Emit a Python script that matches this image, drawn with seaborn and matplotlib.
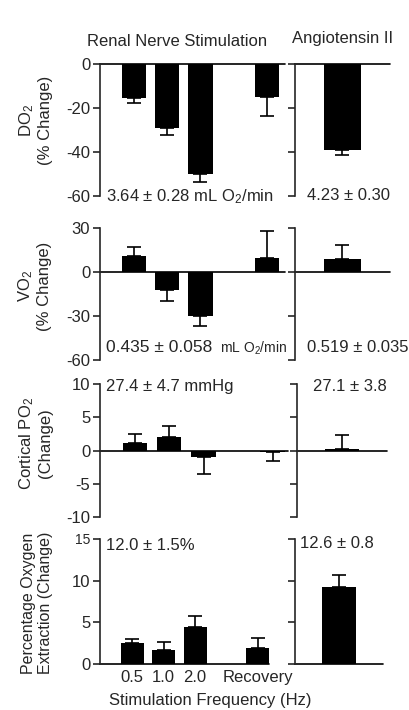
import matplotlib
matplotlib.use('Agg')
import matplotlib.pyplot as plt
import seaborn as sns

# ********************** data **********************
freq_labels = ['0.5', '1.0', '2.0', 'Recovery']
freq_order = ['0.5', '1.0', '2.0', ' ', 'Recovery']  # blank slot before recovery
ang_label = ['Ang II']

do2_rns = [-15.5, -29.2, -49.9, -15.0]
do2_rns_err = [2.3, 3.3, 3.8, 8.7]
do2_ang = [-39.0]
do2_ang_err = [2.6]

vo2_rns = [11.0, -12.0, -30.3, 9.5]
vo2_rns_err = [6.0, 7.6, 6.7, 18.2]
vo2_ang = [8.9]
vo2_ang_err = [9.7]

po2_rns = [1.1, 2.1, -1.0, -0.26]
po2_rns_err = [1.37, 1.52, 2.5, 1.3]
po2_ang = [0.26]
po2_ang_err = [2.0]

oe_rns = [2.5, 1.7, 4.5, 1.9]
oe_rns_err = [0.5, 0.9, 1.3, 1.25]
oe_ang = [9.2]
oe_ang_err = [1.5]

do2_ticks = [0, -20, -40, -60]
vo2_ticks = [30, 0, -30, -60]
po2_ticks = [10, 5, 0, -5, -10]
oe_ticks = [0, 5, 10, 15]

# ********************** style **********************
sns.set_style('ticks')
plt.rcParams['font.family'] = ['Liberation Sans', 'DejaVu Sans']
plt.rcParams['mathtext.fontset'] = 'custom'
plt.rcParams['mathtext.rm'] = 'Liberation Sans'
plt.rcParams['mathtext.it'] = 'Liberation Sans:italic'
plt.rcParams['axes.unicode_minus'] = False

W, H = 410, 710
LW = 1.2
fig = plt.figure(figsize=(W / 100, H / 100), dpi=100)


def px_rect(l, t, r, b):
    return [l / W, 1 - b / H, (r - l) / W, (b - t) / H]


def bar_panel(rect, cats, order, vals, errs, width, xlim, ylim, yticks, labels=True):
    ax = fig.add_axes(px_rect(*rect))
    sns.barplot(x=cats, y=vals, order=order, color='black', saturation=1,
                width=width, errorbar=None, linewidth=0, ax=ax)
    pos = [order.index(c) for c in cats]
    # one-sided SEM bars, pointing away from zero
    lo = [e if v < 0 else 0 for v, e in zip(vals, errs)]
    hi = [e if v >= 0 else 0 for v, e in zip(vals, errs)]
    ax.errorbar(pos, vals, yerr=[lo, hi], fmt='none', ecolor='black',
                elinewidth=LW, capsize=5, capthick=LW, zorder=3)
    ax.axhline(0, color='black', lw=LW, clip_on=False, zorder=2)
    ax.set_xlim(xlim)
    ax.set_ylim(ylim)
    ax.set_yticks(yticks)
    if not labels:
        ax.set_yticklabels([])
    for s in ['top', 'right', 'bottom']:
        ax.spines[s].set_visible(False)
    ax.spines['left'].set_linewidth(LW)
    ax.tick_params(axis='y', direction='out', length=5, width=LW, labelsize=12, pad=2)
    ax.tick_params(axis='x', length=0, labelsize=12, pad=4)
    ax.set_xticklabels([])
    ax.set_xlabel('')
    ax.set_ylabel('')
    ax.patch.set_alpha(0)
    return ax


# DO2
bar_panel((100, 63.5, 285, 196), freq_labels, freq_order, do2_rns, do2_rns_err,
          0.73, (-1.03, 4.55), (-60, 0), do2_ticks)
bar_panel((295, 63.5, 390, 196), ang_label, ang_label, do2_ang, do2_ang_err,
          0.39, (-0.5, 0.5), (-60, 0), do2_ticks, labels=False)

# VO2
bar_panel((100, 228, 285, 360), freq_labels, freq_order, vo2_rns, vo2_rns_err,
          0.73, (-1.03, 4.55), (-60, 30), vo2_ticks)
bar_panel((295, 228, 390, 360), ang_label, ang_label, vo2_ang, vo2_ang_err,
          0.39, (-0.5, 0.5), (-60, 30), vo2_ticks, labels=False)

# cortical PO2
bar_panel((100, 384, 288, 517), freq_labels, freq_order, po2_rns, po2_rns_err,
          0.71, (-1.01, 4.45), (-10, 10), po2_ticks)
bar_panel((297, 384, 387, 517), ang_label, ang_label, po2_ang, po2_ang_err,
          0.38, (-0.5, 0.5), (-10, 10), po2_ticks, labels=False)

# oxygen extraction
ax4 = bar_panel((100, 539, 269, 664), freq_labels, freq_order, oe_rns, oe_rns_err,
                0.73, (-1.02, 4.35), (0, 15), oe_ticks)
ax4.set_xticks(range(len(freq_order)))
ax4.set_xticklabels(freq_order)
ax4.get_yticklabels()[-1].set_fontsize(10)
bar_panel((295, 539, 383, 664), ang_label, ang_label, oe_ang, oe_ang_err,
          0.39, (-0.5, 0.5), (0, 15), oe_ticks, labels=False)


def ftext(x, y, s, **kw):
    kw.setdefault('fontsize', 12)
    fig.text(x / W, 1 - y / H, s, **kw)


# titles
ftext(177, 42, 'Renal Nerve Stimulation', ha='center', va='center')
ftext(343, 39, 'Angiotensin II', ha='center', va='center')
ftext(210, 701, 'Stimulation Frequency (Hz)', ha='center', va='center')

# y labels
ylab = dict(rotation=90, ha='center', va='center', multialignment='center')
ftext(35, 120, 'DO$_2$\n(% Change)', **ylab)
ftext(34, 286, 'VO$_2$\n(% Change)', **ylab)
ftext(35, 443, 'Cortical PO$_2$\n(Change)', **ylab)
ftext(37, 603, 'Percentage Oxygen\nExtraction (Change)', fontsize=11.5, **ylab)

# baseline values
ftext(106, 197, '3.64 ± 0.28 mL O$_2$/min', va='center')
ftext(307, 196, '4.23 ± 0.30', va='center')
ftext(106, 348, '0.435 ± 0.058', fontsize=12.5, va='center')
ftext(220, 348, 'mL O$_2$/min', fontsize=10, va='center')
ftext(307, 348, '0.519 ± 0.035', va='center')
ftext(106, 386, '27.4 ± 4.7 mmHg', va='center')
ftext(313, 386, '27.1 ± 3.8', va='center')
ftext(106, 546, '12.0 ± 1.5%', va='center')
ftext(300, 544, '12.6 ± 0.8', va='center')

fig.savefig('out.png', dpi=100)
